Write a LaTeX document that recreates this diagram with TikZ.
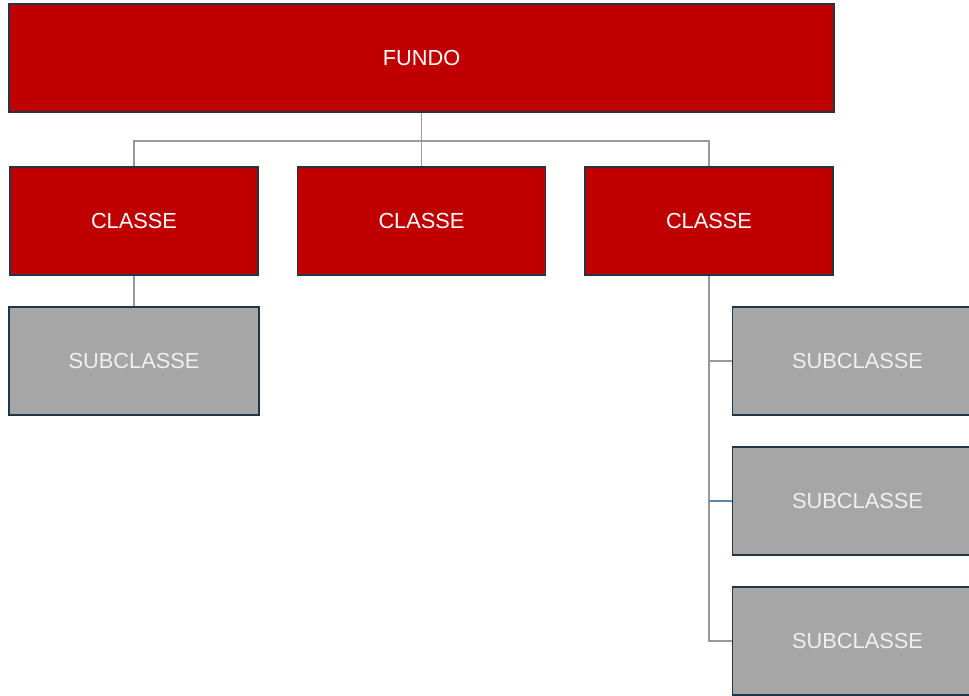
\documentclass[tikz,border=0pt]{standalone}
\usepackage{fontspec}
\setmainfont{Liberation Sans}
\usetikzlibrary{positioning}

\definecolor{fund_red}{HTML}{C00000}
\definecolor{sub_grey}{HTML}{A6A6A6}
\definecolor{box_edge}{HTML}{1E3646}
\definecolor{link_grey}{HTML}{999999}
\definecolor{link_blue}{HTML}{5A88A8}

\begin{document}
\begin{tikzpicture}
    [
        node distance=3.5cm and 7.1875cm, on grid,
        red_box/.style={rectangle, draw=box_edge, fill=fund_red, line width=1pt, minimum width=6.2cm, minimum height=2.7cm, inner sep=0pt, text=white, font=\fontsize{15.5}{18}\selectfont},
        grey_box/.style={rectangle, draw=box_edge, fill=sub_grey, line width=1pt, minimum width=6.25cm, minimum height=2.7cm, inner sep=0pt, text=white!94!black, font=\fontsize{15.5}{18}\selectfont},
        link/.style={line width=1.2pt, color=link_grey},
    ]
        \useasboundingbox (0,0) rectangle (24.225,-17.375);
        \node[red_box, minimum width=20.625cm] (fundo) at (10.5375,-1.45) {FUNDO} ;
        \node[red_box] (c2) [below = 4.075cm of fundo] {CLASSE} ;
        \node[red_box] (c1) [left = of c2] {CLASSE} ;
        \node[red_box] (c3) [right = of c2] {CLASSE} ;
        \node[grey_box] (s1) [below = of c1] {SUBCLASSE} ;
        \node[grey_box] (s2) [below right = 3.5cm and 3.7125cm of c3] {SUBCLASSE} ;
        \node[grey_box] (s3) [below = of s2] {SUBCLASSE} ;
        \node[grey_box] (s4) [below = of s3] {SUBCLASSE} ;
        % bus under the fund
        \draw[link] (fundo.south) -- ++(0,-0.7) -| (c1.north) ;
        \draw[link] (fundo.south) -- ++(0,-0.7) -| (c3.north) ;
        \draw[link] (fundo.south) -- (c2.north) ;
        \draw[link] (c1) -- (s1) ;
        % branch of the third class
        \draw[link] (c3.south) |- (s2.west) ;
        \draw[link] (c3.south) |- (s4.west) ;
        \draw[link, color=link_blue] (c3.south |- s3.west) -- (s3.west) ;
\end{tikzpicture}
\end{document}
